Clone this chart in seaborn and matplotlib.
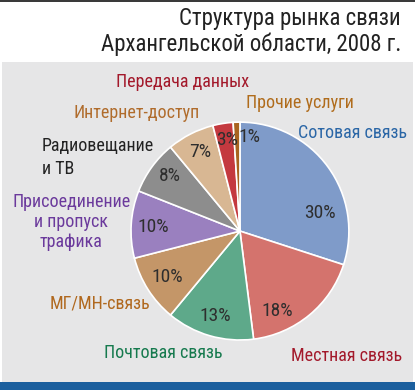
import matplotlib
matplotlib.use('Agg')
import matplotlib.pyplot as plt
from matplotlib import font_manager
from matplotlib.patches import Rectangle
import seaborn as sns
import numpy as np

# Данные
categories = ['Сотовая связь', 'Местная связь', 'Почтовая связь', 'МГ/МН-связь',
              'Присоединение\nи пропуск\nтрафика', 'Радиовещание\nи ТВ',
              'Интернет-доступ', 'Передача данных', 'Прочие услуги']
shares = [30, 18, 13, 10, 10, 8, 7, 3, 1]
pct_labels = ['30%', '18%', '13%', '10%', '10%', '8%', '7%', '3%', '1%']

wedge_colors = ['#7f9bc9', '#d4736d', '#5ea98a', '#c49668', '#9a80bf',
                '#8d8d8d', '#d8b793', '#c4393f', '#a8641f']
label_colors = ['#2a66a6', '#a3192b', '#167a4e', '#b0681e', '#6b3a9c',
                '#222222', '#b06c2c', '#a3192b', '#b06c1c']

# posiciones de etiquetas (fracción de figura) y alineación
label_pos = [(0.850, 0.660), (0.835, 0.088), (0.393, 0.096), (0.240, 0.223),
             (0.172, 0.431), (0.100, 0.596), (0.330, 0.710),
             (0.440, 0.789), (0.722, 0.735)]
label_ha = ['center', 'center', 'center', 'center', 'center', 'left',
            'center', 'center', 'center']
# porcentajes: ángulo (grados) y radio relativo
pct_ang = [13, -65, -106, -148, 177, 142, 117, 98, 84]
pct_rad = [0.75, 0.81, 0.81, 0.79, 0.80, 0.82, 0.81, 0.84, 0.87]

sns.set_theme(style='white')
disponibles = {f.name for f in font_manager.fontManager.ttflist}
fuente = 'DejaVu Sans'
for nombre in ['Liberation Sans Narrow', 'Roboto Condensed', 'Open Sans Condensed',
               'Roboto', 'Liberation Sans']:
    if nombre in disponibles:
        fuente = nombre
        break
plt.rcParams['font.family'] = [fuente, 'DejaVu Sans']

fig = plt.figure(figsize=(4.15, 3.9), dpi=100)
fig.patch.set_facecolor('white')

# fondo gris, franja azul y línea superior
fig.add_artist(Rectangle((0.005, 0.02), 0.99, 0.821, transform=fig.transFigure,
                         facecolor='#e6e6e7', edgecolor='none', zorder=0))
fig.add_artist(Rectangle((0, 0), 1, 0.02, transform=fig.transFigure,
                         facecolor='#1b5f9e', edgecolor='none', zorder=0))
fig.add_artist(Rectangle((0, 0.994), 1, 0.006, transform=fig.transFigure,
                         facecolor='#3a3a3a', edgecolor='none', zorder=0))

fig.text(0.966, 0.953, 'Структура рынка связи', ha='right', va='center',
         fontsize=16.5, color='#222222')
fig.text(0.966, 0.887, 'Архангельской области, 2008 г.', ha='right',
         va='center', fontsize=16.5, color='#222222')

ax = fig.add_axes([0.3157, 0.128, 0.525, 0.559])
ax.set_facecolor('none')
wedges, texts = ax.pie(shares, colors=wedge_colors, startangle=90,
                       counterclock=False, radius=1,
                       wedgeprops=dict(edgecolor='white', linewidth=1.2))
ax.set_xlim(-1, 1)
ax.set_ylim(-1, 1)
ax.set_aspect('equal')
ax.axis('off')

# etiquetas de porcentaje dentro de cada sector
for lab, a, r in zip(pct_labels, pct_ang, pct_rad):
    ang = np.deg2rad(a)
    ax.text(r * np.cos(ang), r * np.sin(ang), lab, ha='center', va='center',
            fontsize=14, color='#2e2e2e')

for cat, (x, y), ha, col in zip(categories, label_pos, label_ha, label_colors):
    fig.text(x, y, cat, ha=ha, va='center', fontsize=13, color=col,
             linespacing=1.3 if ha == 'left' else 1.12,
             multialignment='center' if ha == 'center' else 'left')

fig.savefig('out.png', dpi=100)
